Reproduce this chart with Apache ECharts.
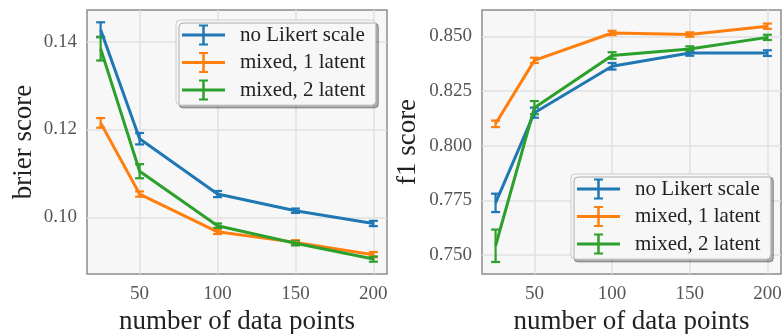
<!DOCTYPE html>
<html>
<head>
<meta charset="utf-8">
<script src="https://cdn.jsdelivr.net/npm/echarts@6/dist/echarts.min.js"></script>
<style>
  html, body { margin: 0; padding: 0; background: #fff; }
  #chart { width: 782px; height: 334px; }
</style>
</head>
<body>
<div id="chart"></div>
<script>
// 数据
const xVals = [25, 50, 100, 150, 200];
const seriesNames = ['no Likert scale', 'mixed, 1 latent', 'mixed, 2 latent'];
const colors = ['#1f77b4', '#ff7f0e', '#2ca02c'];

const brierNoLikert = [0.1427, 0.1179, 0.1053, 0.1015, 0.0986];
const brierNoLikertErr = [0.0017, 0.0013, 0.0007, 0.0005, 0.0006];
const brierMixed1 = [0.1215, 0.1053, 0.0967, 0.0943, 0.0915];
const brierMixed1Err = [0.0011, 0.0006, 0.0005, 0.0005, 0.0006];
const brierMixed2 = [0.1384, 0.1105, 0.0981, 0.0941, 0.0905];
const brierMixed2Err = [0.0027, 0.0016, 0.0005, 0.0005, 0.0006];

const f1NoLikert = [0.7739, 0.8151, 0.8363, 0.8424, 0.8423];
const f1NoLikertErr = [0.0042, 0.0023, 0.0015, 0.0013, 0.0013];
const f1Mixed1 = [0.8100, 0.8390, 0.8515, 0.8508, 0.8546];
const f1Mixed1Err = [0.0015, 0.0012, 0.0010, 0.0010, 0.0012];
const f1Mixed2 = [0.7543, 0.8174, 0.8412, 0.8442, 0.8495];
const f1Mixed2Err = [0.0074, 0.0030, 0.0015, 0.0012, 0.0012];

const xTicks = [50, 100, 150, 200];
const brierTicks = [0.10, 0.12, 0.14];
const f1Ticks = [0.750, 0.775, 0.800, 0.825, 0.850];

const serif = "'Liberation Serif', 'DejaVu Serif', serif";
const chart = echarts.init(document.getElementById('chart'));

// 图例图标：横线 + 误差棒
const legendIcon = 'path://M0,9L43,9L43,12L0,12Z M20.25,0L22.75,0L22.75,21L20.25,21Z M17,0L26,0L26,2L17,2Z M17,19L26,19L26,21L17,21Z';

const errRender = (params, api) => {
    const x = api.value(0);
    const lo = api.coord([x, api.value(1)]);
    const hi = api.coord([x, api.value(2)]);
    const cap = 4.5;
    const style = { stroke: api.visual('color'), lineWidth: 2.2 };
    return {
        type: 'group',
        children: [
            { type: 'line', shape: { x1: lo[0], y1: lo[1], x2: hi[0], y2: hi[1] }, style },
            { type: 'line', shape: { x1: lo[0] - cap, y1: lo[1], x2: lo[0] + cap, y2: lo[1] }, style },
            { type: 'line', shape: { x1: hi[0] - cap, y1: hi[1], x2: hi[0] + cap, y2: hi[1] }, style }
        ]
    };
};

const makeSeries = (name, color, vals, errs, idx) => [
    {
        name, type: 'line', xAxisIndex: idx, yAxisIndex: idx,
        data: xVals.map((x, i) => [x, vals[i]]),
        showSymbol: false, silent: true,
        lineStyle: { color, width: 3 },
        itemStyle: { color }
    },
    {
        name, type: 'custom', xAxisIndex: idx, yAxisIndex: idx,
        data: xVals.map((x, i) => [x, vals[i] - errs[i], vals[i] + errs[i]]),
        renderItem: errRender, silent: true,
        itemStyle: { color }
    }
];

const xAxisCommon = {
    type: 'value', min: 16.25, max: 208.75,
    name: 'number of data points', nameLocation: 'middle', nameGap: 31,
    nameTextStyle: { fontFamily: serif, fontSize: 27, color: '#222' },
    axisLine: { show: false },
    axisTick: { show: false, customValues: xTicks },
    axisLabel: { customValues: xTicks, fontFamily: serif, fontSize: 19, color: '#555', margin: 11 },
    splitLine: { show: true, lineStyle: { color: '#e0e0e0', width: 1.5 } }
};

const yAxisCommon = {
    type: 'value', nameLocation: 'middle',
    nameTextStyle: { fontFamily: serif, fontSize: 27, color: '#222' },
    axisLine: { show: false },
    splitLine: { show: true, lineStyle: { color: '#e0e0e0', width: 1.5 } }
};

const legendCommon = {
    orient: 'vertical',
    data: seriesNames.map(n => ({ name: n, icon: legendIcon })),
    itemWidth: 43, itemHeight: 21, itemGap: 6.5,
    padding: [4.5, 10, 4.5, 6],
    backgroundColor: '#f7f7f7',
    borderColor: '#cccccc', borderWidth: 1, borderRadius: 4,
    shadowColor: 'rgba(0,0,0,0.3)', shadowBlur: 0, shadowOffsetX: 3, shadowOffsetY: 3,
    textStyle: { fontFamily: serif, fontSize: 21, color: '#222', padding: [0, 0, 0, 10] },
    selectedMode: false
};

const gridCommon = {
    top: 10, height: 264, show: true, containLabel: false, outerBoundsMode: 'none',
    backgroundColor: '#f7f7f7', borderColor: '#8c8c8c', borderWidth: 1.5
};

const option = {
    animation: false,
    color: colors,
    textStyle: { fontFamily: serif },
    grid: [
        Object.assign({ left: 87, width: 300 }, gridCommon),
        Object.assign({ left: 482, width: 299 }, gridCommon)
    ],
    xAxis: [
        Object.assign({ gridIndex: 0 }, xAxisCommon),
        Object.assign({ gridIndex: 1 }, xAxisCommon)
    ],
    yAxis: [
        Object.assign({}, yAxisCommon, {
            gridIndex: 0, min: 0.0871, max: 0.1472, name: 'brier score', nameGap: 50,
            axisTick: { show: false, customValues: brierTicks },
            axisLabel: { customValues: brierTicks, formatter: v => v.toFixed(2), fontFamily: serif, fontSize: 19, color: '#555', margin: 10 }
        }),
        Object.assign({}, yAxisCommon, {
            gridIndex: 1, min: 0.7414, max: 0.8620, name: 'f1 score', nameGap: 61,
            axisTick: { show: false, customValues: f1Ticks },
            axisLabel: { customValues: f1Ticks, formatter: v => v.toFixed(3), fontFamily: serif, fontSize: 19, color: '#555', margin: 10 }
        })
    ],
    legend: [
        Object.assign({ left: 176, top: 20 }, legendCommon),
        Object.assign({ left: 571, top: 174 }, legendCommon)
    ],
    series: [
        ...makeSeries(seriesNames[0], colors[0], brierNoLikert, brierNoLikertErr, 0),
        ...makeSeries(seriesNames[1], colors[1], brierMixed1, brierMixed1Err, 0),
        ...makeSeries(seriesNames[2], colors[2], brierMixed2, brierMixed2Err, 0),
        ...makeSeries(seriesNames[0], colors[0], f1NoLikert, f1NoLikertErr, 1),
        ...makeSeries(seriesNames[1], colors[1], f1Mixed1, f1Mixed1Err, 1),
        ...makeSeries(seriesNames[2], colors[2], f1Mixed2, f1Mixed2Err, 1)
    ]
};

chart.setOption(option);
</script>
</body>
</html>
